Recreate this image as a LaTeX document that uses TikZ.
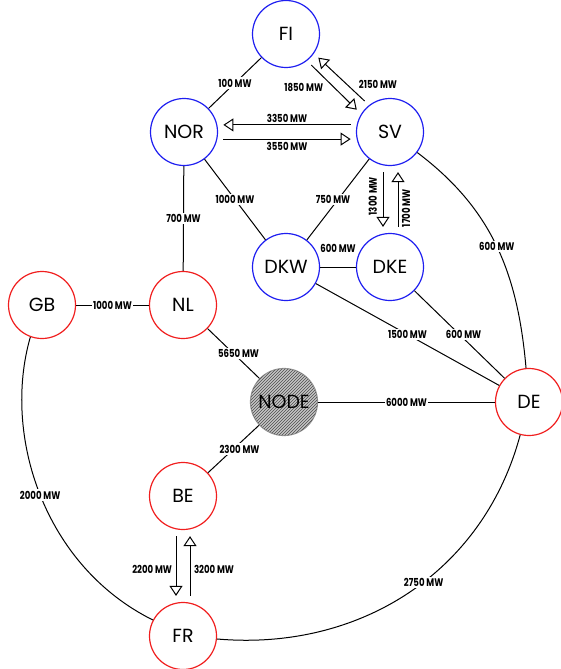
\documentclass[tikz,border=0pt]{standalone}
\usepackage{fontspec}
\usepackage{tikz}
\usetikzlibrary{arrows.meta,patterns}
\definecolor{nordicBlue}{HTML}{1E1EF0}
\definecolor{cweRed}{HTML}{F01E1E}
\newfontfamily\zonefont{Poppins}
\newfontfamily\flowfont[FakeStretch=0.78]{Poppins}

\begin{document}
\begin{tikzpicture}[
  x=1pt, y=1pt,
  zone/.style={circle, draw, line width=1.2pt, minimum size=67pt, inner sep=0pt,
               font=\zonefont\fontsize{19}{22}\selectfont},
  nordic/.style={zone, draw=nordicBlue},
  cwe/.style={zone, draw=cweRed},
  hub/.style={zone, draw=gray!80, fill=gray!45,
              postaction={pattern=north east lines, pattern color=black!70}},
  lbl/.style={font=\flowfont\bfseries\fontsize{11}{13}\selectfont, fill=white, inner sep=1.5pt},
  tag/.style={lbl, fill=none},
  link/.style={black, line width=1pt},
  flow/.style={-{Triangle[open,length=10pt,width=13pt]}, black, line width=1pt,
               shorten >=6pt, shorten <=6pt}
]
\useasboundingbox (0,0) rectangle (561,-669);
\node[nordic] (FI)   at (286,-34)  {FI};
\node[nordic] (NOR)  at (184,-132) {NOR};
\node[nordic] (SV)   at (390,-132) {SV};
\node[nordic] (DKW)  at (286,-267) {DKW};
\node[nordic] (DKE)  at (390,-267) {DKE};
\node[cwe]    (GB)   at (42,-305)  {GB};
\node[cwe]    (NL)   at (183,-305) {NL};
\node[hub]    (NODE) at (284,-402) {NODE};
\node[cwe]    (DE)   at (529,-402) {DE};
\node[cwe]    (BE)   at (183,-496) {BE};
\node[cwe]    (FR)   at (183,-636) {FR};
\draw[link] (FI)   -- node[lbl] {100 MW}  (NOR);
\draw[link] (NOR)  -- node[lbl] {700 MW}  (NL);
\draw[link] (NOR)  -- node[lbl] {1000 MW} (DKW);
\draw[link] (SV)   -- node[lbl, xshift=-5pt] {750 MW} (DKW);
\draw[link] (DKW)  -- node[tag, above=12pt] {600 MW} (DKE);
\draw[link] (DKW)  -- node[lbl] {1500 MW} (DE);
\draw[link] (DKE)  -- node[lbl, xshift=4pt] {600 MW} (DE);
\draw[link] (GB)   -- node[lbl] {1000 MW} (NL);
\draw[link] (NL)   -- node[lbl, xshift=5pt] {5650 MW} (NODE);
\draw[link] (NODE) -- node[lbl] {6000 MW} (DE);
\draw[link] (NODE) -- node[lbl, xshift=6pt] {2300 MW} (BE);
\draw[link] (GB.-110) .. controls (2,-435) and (44,-566) .. node[lbl] {2000 MW} (FR.152);
\draw[link] (FR) to[out=-5, in=-105] node[lbl, pos=0.55] {2750 MW} (DE);
\draw[link] (SV) to[out=-37, in=95] node[lbl] {600 MW} (DE);
\draw[flow] (FI.-52) -- node[tag, left=9pt] {1850 MW} (SV.148);
\draw[flow] (SV.128) -- node[tag, right=10pt, pos=0.4] {2150 MW} (FI.-35);
\draw[flow] (SV.168) -- node[tag, above=0.5pt] {3350 MW} (NOR.12);
\draw[flow] (NOR.-12) -- node[tag, below=1pt] {3550 MW} (SV.-168);
\draw[flow] ([xshift=-7pt]SV.south) -- node[tag, pos=0.45, xshift=-4pt, anchor=south, rotate=90] {1300 MW} ([xshift=-7pt]DKE.north);
\draw[flow] ([xshift=8pt]DKE.north) -- node[tag, pos=0.37, xshift=2pt, anchor=north, rotate=90] {1700 MW} ([xshift=8pt]SV.south);
\draw[flow] ([xshift=-7pt]BE.south) -- node[tag, pos=0.55, left=2pt] {2200 MW} ([xshift=-7pt]FR.north);
\draw[flow] ([xshift=7pt]FR.north) -- node[tag, pos=0.45, right=2pt] {3200 MW} ([xshift=7pt]BE.south);
\end{tikzpicture}
\end{document}
